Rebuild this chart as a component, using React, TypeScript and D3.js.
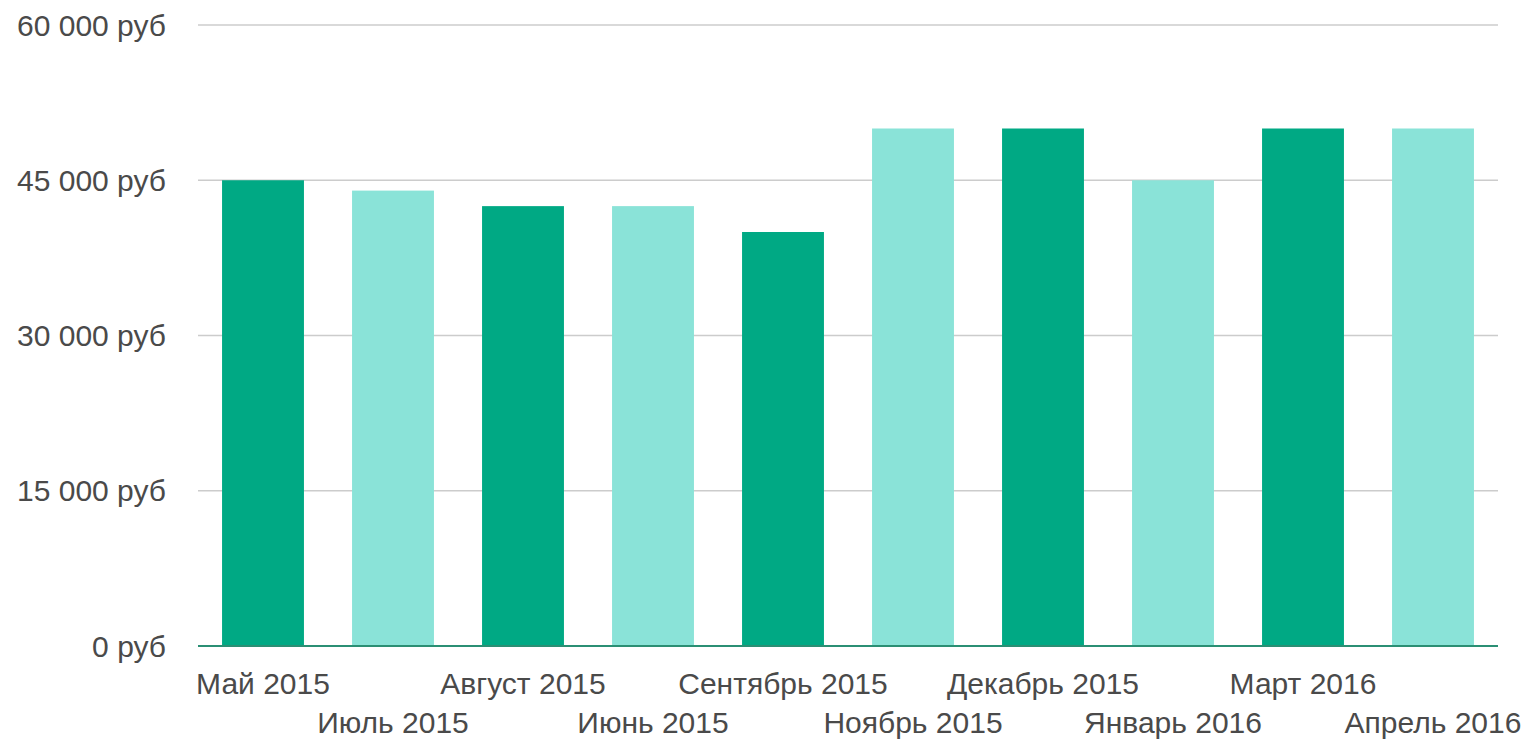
import { useRef, useEffect } from "react";
import * as d3 from "d3";

const months = [
  "Май 2015",
  "Июль 2015",
  "Август 2015",
  "Июнь 2015",
  "Сентябрь 2015",
  "Ноябрь 2015",
  "Декабрь 2015",
  "Январь 2016",
  "Март 2016",
  "Апрель 2016",
];
const amounts = [45000, 44000, 42500, 42500, 40000, 50000, 50000, 45000, 50000, 50000];
const yTicks = [0, 15000, 30000, 45000, 60000];

const DARK = "#00a984";
const LIGHT = "#8ae3d8";

export default function App() {
  const svgRef = useRef<SVGSVGElement>(null);

  useEffect(() => {
    document.body.style.margin = "0";
    if (!svgRef.current) return;
    const width = 1527;
    const height = 744;
    const svg = d3.select(svgRef.current);
    svg.selectAll("*").remove();
    svg.attr("width", width).attr("height", height);

    const margin = { top: 25, right: 29, bottom: 98, left: 198 };
    const x = d3.scaleBand<string>()
      .domain(months)
      .range([margin.left, width - margin.right])
      .paddingInner(0.37)
      .paddingOuter(0.185);
    const y = d3.scaleLinear().domain([0, 60000]).range([height - margin.bottom, margin.top]);

    const font = "'Liberation Sans', Arial, sans-serif";

    // gridlines
    svg.append("g")
      .selectAll("line")
      .data(yTicks.filter((t) => t > 0))
      .join("line")
      .attr("x1", margin.left)
      .attr("x2", width - margin.right)
      .attr("y1", (d) => y(d))
      .attr("y2", (d) => y(d))
      .attr("stroke", "#cccccc")
      .attr("stroke-width", 1.5);

    // y labels
    svg.append("g")
      .selectAll("text")
      .data(yTicks)
      .join("text")
      .attr("x", 166)
      .attr("y", (d) => y(d))
      .attr("dy", "0.35em")
      .attr("text-anchor", "end")
      .attr("fill", "#4a4a4a")
      .attr("font-family", font)
      .attr("font-size", "30px")
      .text((d) => (d === 0 ? "0 руб" : d3.format(",")(d).replace(",", " ") + " руб"));

    // bars
    svg.append("g")
      .selectAll("rect")
      .data(months)
      .join("rect")
      .attr("x", (d) => x(d) ?? 0)
      .attr("y", (_, i) => y(amounts[i]))
      .attr("width", x.bandwidth())
      .attr("height", (_, i) => y(0) - y(amounts[i]))
      .attr("fill", (_, i) => (i % 2 === 0 ? DARK : LIGHT));

    // baseline
    svg.append("line")
      .attr("x1", margin.left)
      .attr("x2", width - margin.right)
      .attr("y1", y(0))
      .attr("y2", y(0))
      .attr("stroke", "#2b8f74")
      .attr("stroke-width", 2);

    // x labels, staggered in two rows
    svg.append("g")
      .selectAll("text")
      .data(months)
      .join("text")
      .attr("x", (d) => (x(d) ?? 0) + x.bandwidth() / 2)
      .attr("y", (_, i) => (i % 2 === 0 ? 694 : 733))
      .attr("text-anchor", "middle")
      .attr("fill", "#4a4a4a")
      .attr("font-family", font)
      .attr("font-size", "30px")
      .text((d) => d);
  }, []);

  return <svg ref={svgRef} style={{ display: "block" }} />;
}
